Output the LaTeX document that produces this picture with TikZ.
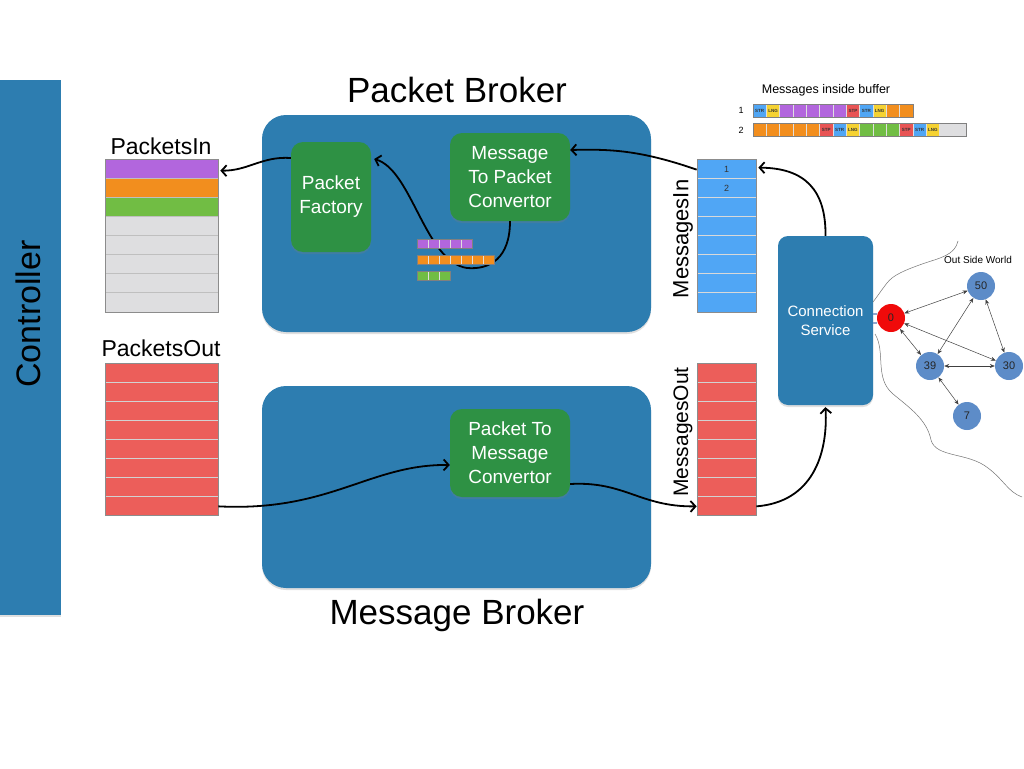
\documentclass[tikz,border=0pt]{standalone}
\usepackage{fontspec}
\setmainfont{Liberation Sans}
\usetikzlibrary{arrows.meta,calc,shadows}
\definecolor{boxblue}{RGB}{45,125,176}
\definecolor{boxgreen}{RGB}{46,145,68}
\definecolor{cpurple}{RGB}{178,102,221}
\definecolor{corange}{RGB}{242,142,30}
\definecolor{cgreen}{RGB}{113,189,68}
\definecolor{cgray}{RGB}{222,222,224}
\definecolor{cred}{RGB}{236,94,90}
\definecolor{cblue}{RGB}{80,166,245}
\definecolor{cyellow}{RGB}{245,210,50}
\definecolor{cstp}{RGB}{232,84,84}
\definecolor{nodeblue}{RGB}{93,140,200}
\definecolor{nodered}{RGB}{240,10,10}
\definecolor{plug}{RGB}{140,165,205}
\begin{document}
\begin{tikzpicture}[x=1pt,y=-1pt,
  bigbox/.style={fill=boxblue, rounded corners=24pt, inner sep=0pt,
    drop shadow={opacity=0.25,shadow xshift=0pt,shadow yshift=-2pt}},
  greenbox/.style={fill=boxgreen, rounded corners=12pt, text=white, align=center, inner sep=0pt,
    font=\fontsize{19}{24}\selectfont,
    drop shadow={opacity=0.25,shadow xshift=0pt,shadow yshift=-2pt}},
  ttl/.style={font=\fontsize{35}{40}\selectfont, text=black},
  lbl/.style={font=\fontsize{23}{26}\selectfont, text=black},
  frame/.style={draw=black!45, line width=0.7pt, inner sep=0pt},
  sep/.style={draw=black!25, line width=1pt},
  sepblue/.style={draw=white!70!gray, line width=1pt},
  sepred/.style={draw=white!65!gray, line width=1pt},
  flow/.style={line width=1.8pt, -{Straight Barb[length=5pt,width=11pt]}},
  gnode/.style={circle, fill=nodeblue, minimum size=28pt, inner sep=0pt,
    font=\fontsize{11}{12}\selectfont, text=black!85},
  gedge/.style={line width=0.5pt, draw=black!75,
    {Stealth[length=5pt,width=4pt]}-{Stealth[length=5pt,width=4pt]}},
  wave/.style={line width=0.5pt, draw=black!55},
  lcell/.style={minimum width=13.33pt, minimum height=13pt, inner sep=0pt,
    draw=white!75!gray, line width=0.4pt, font=\fontsize{4.5}{5}\bfseries\selectfont, text=black!80},
  icell/.style={minimum width=11pt, minimum height=9pt, inner sep=0pt,
    draw=white!75!gray, line width=0.4pt},
]
\useasboundingbox (0,0) rectangle (1024,768);
\fill[white] (0,0) rectangle (1024,768);

% Controller
\node[fill=boxblue, minimum width=61pt, minimum height=535pt, inner sep=0pt,
  drop shadow={opacity=0.25,shadow xshift=0pt,shadow yshift=-2pt}] (ctrl) at (30.5,347.5) {};
\node[rotate=90, font=\fontsize{34}{36}\selectfont] (ctrltxt) at (28,314) {Controller};

% Packet Broker
\node[bigbox, minimum width=389pt, minimum height=217pt] (pb) at (456.5,223.5) {};
\node[ttl] (pbt) at (457,90) {Packet Broker};
\node[greenbox, minimum width=80pt, minimum height=110pt] (pf) at (331,197) {Packet\\Factory};
\node[greenbox, minimum width=120pt, minimum height=88pt] (mtpc) at (510,177) {Message\\To Packet\\Convertor};

% flow inside the packet broker (drawn below the bars)
\draw[flow] (mtpc.south) .. controls (510,258) and (490,270) .. (467,268)
  .. controls (425,262) and (412,170) .. ([xshift=3pt,yshift=38pt]pf.east);

% inner bars
\foreach \i in {0,...,4} \node[icell, fill=cpurple] (ip\i) at ({422.5+\i*11},243.5) {};
\foreach \i in {0,...,6} \node[icell, fill=corange] (io\i) at ({422.5+\i*11},260) {};
\foreach \i in {0,...,2} \node[icell, fill=cgreen] (ig\i) at ({422.5+\i*11},276) {};
\draw[black!50, line width=0.6pt] (417,239) rectangle (472,248);
\draw[black!50, line width=0.6pt] (417,255.5) rectangle (494,264.5);
\draw[black!50, line width=0.6pt] (417,271.5) rectangle (450,280.5);

% Message Broker
\node[bigbox, minimum width=389pt, minimum height=202pt] (mb) at (456.5,487) {};
\node[ttl] (mbt) at (457,615) {Message Broker};
\node[greenbox, minimum width=120pt, minimum height=88pt] (ptmc) at (510,453) {Packet To\\Message\\Convertor};

% PacketsIn
\node[lbl] (pint) at (161,146) {PacketsIn};
\foreach \c [count=\i from 0] in {cpurple,corange,cgreen,cgray,cgray,cgray,cgray,cgray}
  \fill[\c] (105,{159+\i*19.125}) rectangle (218,{159+(\i+1)*19.125});
\foreach \i in {1,...,7} \draw[sep] (105,{159+\i*19.125}) -- (218,{159+\i*19.125});
\node[frame, minimum width=113pt, minimum height=153pt] (pin) at (161.5,235.5) {};

% PacketsOut
\node[lbl] (poutt) at (161,348) {PacketsOut};
\fill[cred] (105,363) rectangle (218,515);
\foreach \i in {1,...,7} \draw[sepred] (105,{363+\i*19}) -- (218,{363+\i*19});
\node[frame, minimum width=113pt, minimum height=152pt] (pout) at (161.5,439) {};

% MessagesIn
\fill[cblue] (697,159) rectangle (756,312);
\foreach \i in {1,...,7} \draw[sepblue] (697,{159+\i*19.125}) -- (756,{159+\i*19.125});
\node[frame, minimum width=59pt, minimum height=153pt] (min) at (726.5,235.5) {};
\node[font=\fontsize{9}{10}\selectfont, text=black!80] (m1) at (726.5,169) {1};
\node[font=\fontsize{9}{10}\selectfont, text=black!80] (m2) at (726.5,188) {2};
\node[lbl, rotate=90, font=\fontsize{22}{24}\selectfont] (mint) at (683,239) {MessagesIn};

% MessagesOut
\fill[cred] (697,363) rectangle (756,515);
\foreach \i in {1,...,7} \draw[sepred] (697,{363+\i*19}) -- (756,{363+\i*19});
\node[frame, minimum width=59pt, minimum height=152pt] (mout) at (726.5,439) {};
\node[lbl, rotate=90, font=\fontsize{21}{24}\selectfont] (moutt) at (683,432) {MessagesOut};

% Connection Service
\node[fill=boxblue, rounded corners=10pt, minimum width=95pt, minimum height=169pt, inner sep=0pt,
  text=white, align=center, font=\fontsize{15}{19}\selectfont,
  drop shadow={opacity=0.25,shadow xshift=0pt,shadow yshift=-2pt}] (cs) at (825.5,320.5) {Connection\\Service};

% legend
\node[font=\fontsize{12.5}{14}\selectfont] (legt) at (826,90) {Messages inside buffer};
\node[font=\fontsize{9}{10}\selectfont] (l1) at (741,110) {1};
\node[font=\fontsize{9}{10}\selectfont] (l2) at (741,130) {2};
\foreach \c/\t [count=\i from 0] in {cblue/STR,cyellow/LNG,cpurple/,cpurple/,cpurple/,cpurple/,cpurple/,cstp/STP,cblue/STR,cyellow/LNG,corange/,corange/}
  \node[lcell, fill=\c] (a\i) at ({753+\i*13.33+6.67},110.5) {\t};
\foreach \c/\t [count=\i from 0] in {corange/,corange/,corange/,corange/,corange/,cstp/STP,cblue/STR,cyellow/LNG,cgreen/,cgreen/,cgreen/,cstp/STP,cblue/STR,cyellow/LNG,cgray/,cgray/}
  \node[lcell, fill=\c] (b\i) at ({753+\i*13.33+6.67},130) {\t};
\draw[black!50, line width=0.6pt] (753,104) rectangle (913,117);
\draw[black!50, line width=0.6pt] (753,123.5) rectangle (966.3,136.5);

% flows
\draw[flow] ([yshift=-11pt]min.north west) .. controls (640,150) and (610,149) .. ([yshift=27pt]mtpc.east);
\draw[flow] ([yshift=39pt]pf.west) .. controls (262,156) and (248,171) .. ([xshift=2pt,yshift=-12pt]pin.north east);
\draw[flow] ([yshift=9pt]pout.south east) .. controls (330,512) and (370,464) .. ([yshift=-12pt]ptmc.west);
\draw[flow] ([yshift=-31pt]ptmc.east) .. controls (625,481) and (640,507) .. ([yshift=9pt]mout.south west);
\draw[flow] ([yshift=9pt]mout.south east) .. controls (812,502) and (828,455) .. ([yshift=-2pt]cs.south);
\draw[flow] (cs.north) .. controls (826,190) and (805,168) .. ([xshift=2pt,yshift=-9pt]min.north east);

% outside world
\node[font=\fontsize{10}{12}\selectfont] (owt) at (978,260) {Out Side World};
\draw[wave] (958,241) .. controls (955,255) and (940,258) .. (925,263)
  .. controls (905,270) and (893,275) .. (887,283) .. controls (880,292) and (877,297) .. (873,302);
\draw[wave] (875,334) .. controls (886,352) and (874,378) .. (893,394)
  .. controls (910,408) and (927,420) .. (931,440) .. controls (936,458) and (968,452) .. (988,468)
  .. controls (1004,480) and (1008,492) .. (1022,497);
\node[gnode, fill=nodered] (n0) at (891,318) {0};
\node[gnode] (n50) at (981,286) {50};
\node[gnode] (n39) at (930,366) {39};
\node[gnode] (n30) at (1009,366) {30};
\node[gnode] (n7) at (967,416) {7};
\draw[plug, line width=2.5pt] (cs.east |- 0,314) -- (n0.west |- 0,314);
\draw[plug, line width=2.5pt] (cs.east |- 0,323) -- (n0.west |- 0,323);
\draw[gedge] (n0) -- (n50);
\draw[gedge] (n0) -- (n30);
\draw[gedge] (n0) -- (n39);
\draw[gedge] (n50) -- (n39);
\draw[gedge] (n50) -- (n30);
\draw[gedge] (n39) -- (n30);
\draw[gedge] (n39) -- (n7);
\end{tikzpicture}
\end{document}
